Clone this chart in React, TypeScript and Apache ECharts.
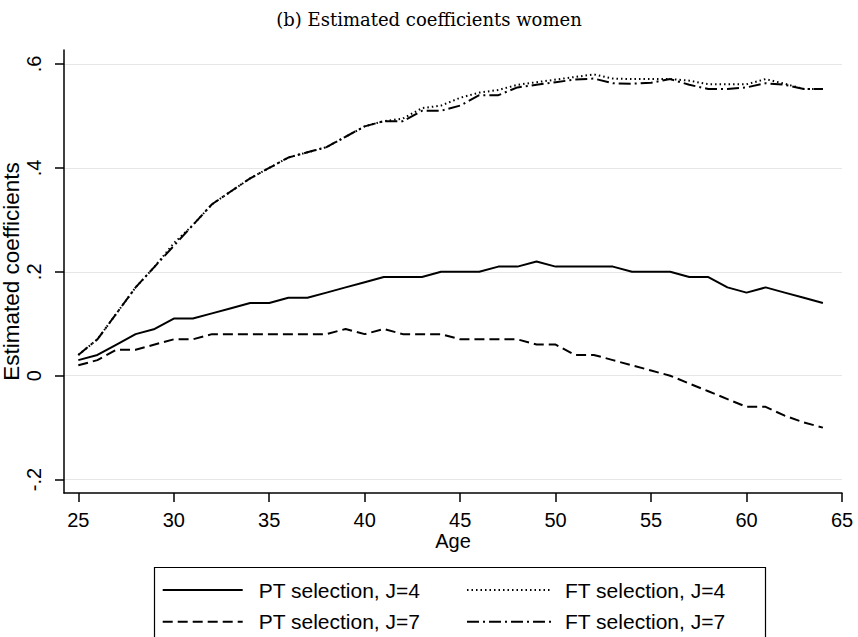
import React, { useEffect, useRef } from 'react';
import * as echarts from 'echarts';

const ages = [25, 26, 27, 28, 29, 30, 31, 32, 33, 34, 35, 36, 37, 38, 39, 40, 41, 42, 43, 44,
  45, 46, 47, 48, 49, 50, 51, 52, 53, 54, 55, 56, 57, 58, 59, 60, 61, 62, 63, 64];

const ptJ4 = [0.03, 0.04, 0.06, 0.08, 0.09, 0.11, 0.11, 0.12, 0.13, 0.14, 0.14, 0.15, 0.15, 0.16, 0.17, 0.18, 0.19, 0.19, 0.19, 0.2,
  0.2, 0.2, 0.21, 0.21, 0.22, 0.21, 0.21, 0.21, 0.21, 0.2, 0.2, 0.2, 0.19, 0.19, 0.17, 0.16, 0.17, 0.16, 0.15, 0.14];

const ptJ7 = [0.02, 0.03, 0.05, 0.05, 0.06, 0.07, 0.07, 0.08, 0.08, 0.08, 0.08, 0.08, 0.08, 0.08, 0.09, 0.08, 0.09, 0.08, 0.08, 0.08,
  0.07, 0.07, 0.07, 0.07, 0.06, 0.06, 0.04, 0.04, 0.03, 0.02, 0.01, 0.0, -0.015, -0.03, -0.045, -0.06, -0.06, -0.077, -0.09, -0.1];

const ftJ4 = [0.04, 0.07, 0.12, 0.17, 0.21, 0.255, 0.29, 0.33, 0.355, 0.38, 0.4, 0.42, 0.43, 0.44, 0.46, 0.48, 0.49, 0.495, 0.515, 0.52,
  0.535, 0.545, 0.55, 0.56, 0.565, 0.57, 0.575, 0.58, 0.572, 0.571, 0.571, 0.571, 0.568, 0.561, 0.561, 0.561, 0.571, 0.562, 0.552, 0.552];

const ftJ7 = [0.04, 0.07, 0.12, 0.17, 0.21, 0.25, 0.29, 0.33, 0.355, 0.38, 0.4, 0.42, 0.43, 0.44, 0.46, 0.48, 0.49, 0.49, 0.51, 0.51,
  0.52, 0.54, 0.54, 0.555, 0.56, 0.565, 0.57, 0.572, 0.563, 0.562, 0.564, 0.571, 0.56, 0.552, 0.552, 0.555, 0.563, 0.56, 0.552, 0.552];

const xTicks = [25, 30, 35, 40, 45, 50, 55, 60, 65];
const yTicks = [-0.2, 0, 0.2, 0.4, 0.6];

const names = ['PT selection, J=4', 'PT selection, J=7', 'FT selection, J=4', 'FT selection, J=7'];

const FONT = '"Liberation Sans", Arial, Helvetica, sans-serif';

function fmtY(v: number): string {
  const s = String(Math.round(v * 10) / 10);
  return s.replace(/^(-?)0\./, '$1.');
}

export default function App() {
  const ref = useRef<HTMLDivElement>(null);

  useEffect(() => {
    if (!ref.current) return;
    const chart = echarts.init(ref.current, undefined, { renderer: 'svg' });
    const pair = (arr: number[]) => ages.map((a, i) => [a, arr[i]]);
    const lineSeries = (name: string, arr: number[], type: any, width: number) => ({
      name,
      type: 'line',
      data: pair(arr),
      symbol: 'none',
      showSymbol: false,
      lineStyle: { color: '#000', width, type },
      itemStyle: { color: '#000' },
      silent: true,
    });
    const legendText = (padLeft: number) => ({
      fontSize: 21,
      fontFamily: FONT,
      color: '#000',
      lineHeight: 21,
      padding: [0, 0, 0, padLeft],
    });
    const legendBase = {
      orient: 'vertical',
      top: 579.5,
      padding: 0,
      itemHeight: 21,
      itemGap: 10.7,
      selectedMode: false,
      itemStyle: { opacity: 0 },
    };
    chart.setOption({
      animation: false,
      backgroundColor: '#fff',
      title: {
        text: '(b) Estimated coefficients women',
        left: 'center',
        top: 5,
        textStyle: { fontFamily: '"DejaVu Serif", serif', fontSize: 18, fontWeight: 'normal', color: '#000' },
      },
      grid: { left: 64, right: 16, top: 50, bottom: 144, containLabel: false, outerBoundsMode: 'none' },
      xAxis: {
        type: 'value',
        min: 24.25,
        max: 65,
        name: 'Age',
        nameLocation: 'middle',
        nameGap: 38,
        nameMoveOverlap: false,
        nameTextStyle: { fontSize: 20, fontFamily: FONT, color: '#000' },
        axisLine: { show: true, onZero: false, lineStyle: { color: '#000', width: 1.5 } },
        axisTick: { show: true, length: 9, customValues: xTicks, lineStyle: { color: '#000', width: 1.5 } },
        axisLabel: { customValues: xTicks, margin: 17, fontSize: 20, fontFamily: FONT, color: '#000' },
        splitLine: { show: false },
      },
      yAxis: {
        type: 'value',
        min: -0.2258,
        max: 0.627,
        name: 'Estimated coefficients',
        nameLocation: 'middle',
        nameGap: 41,
        nameMoveOverlap: false,
        nameTextStyle: { fontSize: 22.5, fontFamily: FONT, color: '#000' },
        axisLine: { show: true, onZero: false, lineStyle: { color: '#000', width: 1.5 } },
        axisTick: { show: true, length: 9, customValues: yTicks, lineStyle: { color: '#000', width: 1.5 } },
        axisLabel: { customValues: yTicks, rotate: 90, margin: 20, fontSize: 20, fontFamily: FONT, color: '#000', formatter: fmtY },
        splitLine: { show: true, lineStyle: { color: '#e6e6e6', width: 1.2 } },
      },
      legend: [
        {
          ...legendBase,
          left: 161.7,
          itemWidth: 80,
          data: [names[0], names[1]],
          textStyle: legendText(11),
        },
        {
          ...legendBase,
          left: 466,
          itemWidth: 84,
          data: [names[2], names[3]],
          textStyle: legendText(9),
        },
      ],
      graphic: [
        {
          type: 'rect',
          left: 152,
          top: 565,
          shape: { width: 611, height: 70.5 },
          style: { fill: 'none', stroke: '#000', lineWidth: 1.2 },
          silent: true,
        },
      ],
      series: [
        lineSeries(names[0], ptJ4, 'solid', 2),
        lineSeries(names[1], ptJ7, [10, 5], 2),
        lineSeries(names[2], ftJ4, [1.5, 3], 2),
        lineSeries(names[3], ftJ7, [12, 4, 2, 4], 2),
      ],
    });
    return () => chart.dispose();
  }, []);

  return <div ref={ref} style={{ position: 'fixed', left: 0, top: 0, width: 858, height: 637 }} />;
}
